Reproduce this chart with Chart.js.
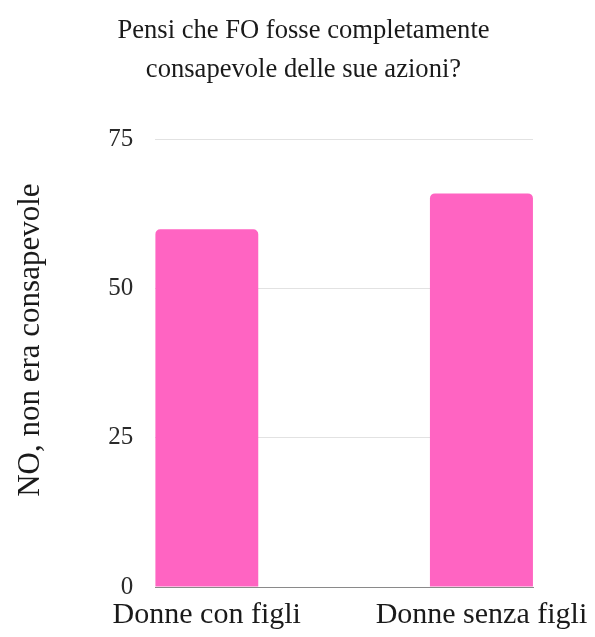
<!DOCTYPE html>
<html>
<head>
<meta charset="utf-8">
<script src="https://cdn.jsdelivr.net/npm/chart.js@4/dist/chart.umd.min.js"></script>
<style>
    html, body { margin: 0; padding: 0; background: #fff; }
    #wrap { width: 595px; height: 637px; }
</style>
</head>
<body>
<div id="wrap"><canvas id="chartDisplay"></canvas></div>
<script>
"use strict";

// Survey answers: share answering "NO"
var categories = ['Donne con figli', 'Donne senza figli'];
var values = [60, 66];
var yTicks = [0, 25, 50, 75];

var titleLines = ['Pensi che FO fosse completamente', 'consapevole delle sue azioni?'];
var yTitle = 'NO, non era consapevole';

var serif = "'Liberation Serif', 'Times New Roman', serif";

// Bars sit on a linear x scale so the first bar starts at the left edge
// of the plot and the last one ends at the right edge
var points = values.map(function (v, i) {
    return { x: i, y: v };
});

var ctx = document.getElementById('chartDisplay').getContext('2d');
var chart = new Chart(ctx, {
    type: 'bar',
    data: {
        datasets: [{
            label: yTitle,
            data: points,
            backgroundColor: '#ff64c2',
            borderWidth: 0,
            borderRadius: { topLeft: 5, topRight: 5 },
            borderSkipped: 'bottom',
            categoryPercentage: 1,
            barPercentage: 0.375
        }]
    },
    options: {
        responsive: true,
        maintainAspectRatio: false,
        animation: false,
        layout: { padding: { left: 12, right: 0, top: 6, bottom: -6 } },
        plugins: {
            legend: { display: false },
            tooltip: { enabled: false },
            title: {
                display: true,
                text: titleLines,
                color: '#1a1a1a',
                font: { family: serif, size: 26.6, weight: 'normal', lineHeight: 1.48 },
                padding: { top: 5, bottom: 50 }
            }
        },
        scales: {
            x: {
                type: 'linear',
                offset: false,
                min: -0.1877,
                max: 1.1877,
                afterBuildTicks: function (axis) {
                    axis.ticks = categories.map(function (c, i) { return { value: i }; });
                },
                // fixed gap on the right; the last label may run into it
                afterFit: function (axis) {
                    axis.paddingRight = 62;
                },
                ticks: {
                    color: '#1a1a1a',
                    font: { family: serif, size: 30 },
                    padding: 10,
                    maxRotation: 0,
                    autoSkip: false,
                    callback: function (value) { return categories[value]; }
                },
                grid: { display: false, drawTicks: false, offset: false },
                border: { display: true, color: '#8a8a8a', width: 1 }
            },
            y: {
                min: 0,
                max: 75,
                afterBuildTicks: function (axis) {
                    axis.ticks = yTicks.map(function (v) { return { value: v }; });
                },
                ticks: {
                    color: '#2a2a2a',
                    font: { family: serif, size: 25 },
                    padding: 22
                },
                grid: { color: '#e2e2e2', drawTicks: false },
                border: { display: false },
                title: {
                    display: true,
                    // leading spaces lift the rotated label above the axis centre
                    text: '\u2002\u2002\u2002' + yTitle,
                    color: '#1a1a1a',
                    font: { family: serif, size: 31 },
                    padding: { top: 0, bottom: 37 }
                }
            }
        }
    }
});
</script>
</body>
</html>
